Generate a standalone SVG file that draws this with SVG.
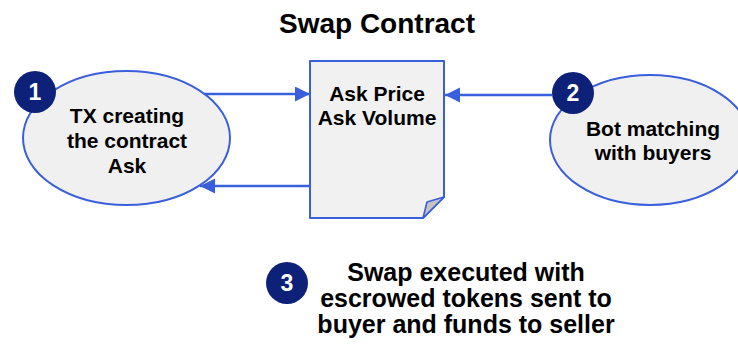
<svg xmlns="http://www.w3.org/2000/svg" width="738" height="344" viewBox="0 0 738 344">
  <style>
    .bubble { fill: #f0f0f0; stroke: #3a5fdc; stroke-width: 2; }
    .doc { fill: #f1f1f1; stroke: #3a5fdc; stroke-width: 2; stroke-linejoin: round; }
    .fold { fill: #c4c4c4; stroke: #3a5fdc; stroke-width: 1.6; stroke-linejoin: round; }
    .badge { fill: #0d2179; }
    .num { font-family: "Liberation Sans", Arial, sans-serif; font-weight: bold; font-size: 23px; fill: #ffffff; text-anchor: middle; }
    .lbl { font-family: "Liberation Sans", Arial, sans-serif; font-weight: bold; font-size: 21px; fill: #000000; text-anchor: middle; }
    .big { font-family: "Liberation Sans", Arial, sans-serif; font-weight: bold; font-size: 25px; fill: #000000; text-anchor: middle; }
    .title { font-family: "Liberation Sans", Arial, sans-serif; font-weight: bold; font-size: 28px; fill: #000000; text-anchor: middle; }
    .link { fill: none; stroke: #3a5fdc; stroke-width: 2.5; }
  </style>
  <defs>
    <marker id="arrow" markerUnits="userSpaceOnUse" markerWidth="16" markerHeight="16" refX="15" refY="7.5" orient="auto">
      <path d="M0,0 L15,7.5 L0,15 Z" fill="#3a5fdc"/>
    </marker>
  </defs>

  <text class="title" x="377" y="33">Swap Contract</text>

  <g id="connectors">
    <path class="link" d="M200,94 L310,94" marker-end="url(#arrow)"/>
    <path class="link" d="M310,186 L200,186" marker-end="url(#arrow)"/>
    <path class="link" d="M552,95 L445,95" marker-end="url(#arrow)"/>
  </g>

  <g id="tx-ask">
    <ellipse class="bubble" cx="126.5" cy="138" rx="103.5" ry="67"/>
    <text class="lbl" x="127" y="123">TX creating</text>
    <text class="lbl" x="127" y="148">the contract</text>
    <text class="lbl" x="127" y="173">Ask</text>
    <circle class="badge" cx="35" cy="92" r="21"/>
    <text class="num" x="35" y="100">1</text>
  </g>

  <g id="contract-doc">
    <path class="doc" d="M310,61 H444 V197 L423,218 H310 Z"/>
    <path class="fold" d="M423,218 L427,202 L444,197 Z"/>
    <text class="lbl" x="377" y="101">Ask Price</text>
    <text class="lbl" x="377" y="125">Ask Volume</text>
  </g>

  <g id="bot">
    <ellipse class="bubble" cx="650" cy="140" rx="100" ry="65"/>
    <text class="lbl" x="653" y="136">Bot matching</text>
    <text class="lbl" x="653" y="160">with buyers</text>
    <circle class="badge" cx="573" cy="93" r="21"/>
    <text class="num" x="573" y="101">2</text>
  </g>

  <g id="swap">
    <circle class="badge" cx="287" cy="283" r="21"/>
    <text class="num" x="287" y="291">3</text>
    <text class="big" x="466" y="281">Swap executed with</text>
    <text class="big" x="466" y="307">escrowed tokens sent to</text>
    <text class="big" x="466" y="333">buyer and funds to seller</text>
  </g>
</svg>
